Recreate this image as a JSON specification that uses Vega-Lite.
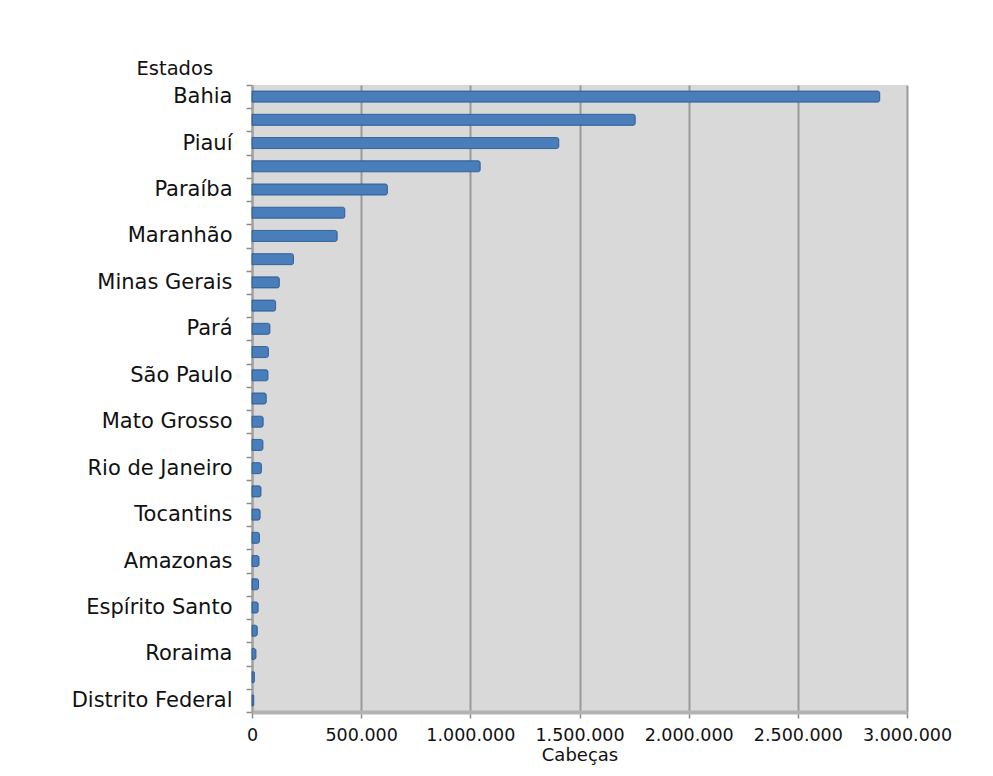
{
  "$schema": "https://vega.github.io/schema/vega-lite/v6.json",
  "autosize": "none",
  "width": 655,
  "height": 627,
  "padding": {"left": 252, "top": 85, "right": 86, "bottom": 64},
  "background": "white",
  "config": {
    "locale": {"number": {"decimal": ",", "thousands": ".", "grouping": [3], "currency": ["R$", ""]}},
    "font": "DejaVu Sans",
    "view": {"fill": "#d9d9d9", "stroke": null}
  },
  "data": {
    "values": [
      {"estado": "Bahia", "cabecas": 2875000},
      {"estado": "Pernambuco", "cabecas": 1755000},
      {"estado": "Piauí", "cabecas": 1405000},
      {"estado": "Ceará", "cabecas": 1045000},
      {"estado": "Paraíba", "cabecas": 620000},
      {"estado": "Rio Grande do Norte", "cabecas": 425000},
      {"estado": "Maranhão", "cabecas": 390000},
      {"estado": "Alagoas", "cabecas": 190000},
      {"estado": "Minas Gerais", "cabecas": 125000},
      {"estado": "Rio Grande do Sul", "cabecas": 108000},
      {"estado": "Pará", "cabecas": 82000},
      {"estado": "Paraná", "cabecas": 75000},
      {"estado": "São Paulo", "cabecas": 73000},
      {"estado": "Goiás", "cabecas": 65000},
      {"estado": "Mato Grosso", "cabecas": 51000},
      {"estado": "Sergipe", "cabecas": 50000},
      {"estado": "Rio de Janeiro", "cabecas": 43000},
      {"estado": "Mato Grosso do Sul", "cabecas": 41000},
      {"estado": "Tocantins", "cabecas": 37000},
      {"estado": "Santa Catarina", "cabecas": 34000},
      {"estado": "Amazonas", "cabecas": 32000},
      {"estado": "Rondônia", "cabecas": 30000},
      {"estado": "Espírito Santo", "cabecas": 28000},
      {"estado": "Amapá", "cabecas": 24000},
      {"estado": "Roraima", "cabecas": 18000},
      {"estado": "Acre", "cabecas": 11000},
      {"estado": "Distrito Federal", "cabecas": 8000}
    ]
  },
  "mark": {"type": "bar", "size": 11, "color": "#4a7ebb", "stroke": "#34649c", "strokeWidth": 1, "cornerRadiusEnd": 2},
  "encoding": {
    "y": {
      "field": "estado",
      "type": "nominal",
      "sort": {"field": "cabecas", "order": "descending"},
      "scale": {"paddingInner": 0, "paddingOuter": 0},
      "axis": {
        "title": "Estados",
        "titleAngle": 0,
        "titleAlign": "left",
        "titleBaseline": "alphabetic",
        "titleX": -116,
        "titleY": -11,
        "titleFontSize": 19.5,
        "titleFontWeight": "normal",
        "titleColor": "#111111",
        "labelFontSize": 21,
        "labelColor": "#111111",
        "labelPadding": 14,
        "tickSize": 6,
        "tickBand": "extent",
        "tickColor": "#8c8c8c",
        "tickWidth": 1.5,
        "domainColor": "#a0a0a0",
        "domainWidth": 2,
        "grid": false,
        "labelExpr": "indexof(['Bahia','Piauí','Paraíba','Maranhão','Minas Gerais','Pará','São Paulo','Mato Grosso','Rio de Janeiro','Tocantins','Amazonas','Espírito Santo','Roraima','Distrito Federal'], datum.value) >= 0 ? datum.label : ''"
      }
    },
    "x": {
      "field": "cabecas",
      "type": "quantitative",
      "scale": {"domain": [0, 3000000], "nice": false},
      "axis": {
        "title": "Cabeças",
        "titleFontSize": 18,
        "titleFontWeight": "normal",
        "titleColor": "#111111",
        "titlePadding": 3,
        "values": [0, 500000, 1000000, 1500000, 2000000, 2500000, 3000000],
        "format": ",d",
        "labelOverlap": false,
        "labelFlush": false,
        "labelFontSize": 17.5,
        "labelColor": "#111111",
        "labelPadding": 8,
        "tickSize": 6,
        "tickColor": "#8c8c8c",
        "tickWidth": 1.5,
        "domainColor": "#b3b3b3",
        "domainWidth": 4,
        "grid": true,
        "gridColor": "#9a9a9a",
        "gridWidth": 2
      }
    }
  }
}
